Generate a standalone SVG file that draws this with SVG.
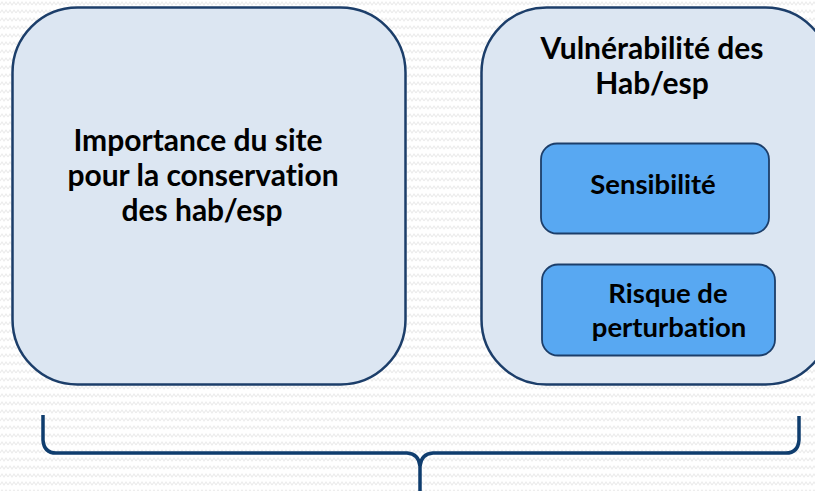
<svg xmlns="http://www.w3.org/2000/svg" width="815" height="491" viewBox="0 0 815 491">
  <defs>
    <pattern id="bg" width="8" height="8" patternUnits="userSpaceOnUse">
      <path d="M0,5 L2,2 L4,5 L6,2 L8,5" fill="none" stroke="#ececec" stroke-width="1.2"/>
    </pattern>
  </defs>
  <style>
    .big { fill: #dce6f2; stroke: #1c3e6a; stroke-width: 2.5; }
    .small { fill: #58a8f2; stroke: #1c3e6a; stroke-width: 1.8; }
    .t { font-family: Lato, "Liberation Sans", sans-serif; font-weight: bold; font-size: 30px; fill: #000; text-anchor: middle; font-variant-ligatures: none; }
    .s { font-size: 27.5px; }
    .brace { fill: none; stroke: #0f3d6e; stroke-width: 3.5; stroke-linejoin: round; }
  </style>
  <rect x="0" y="0" width="815" height="491" fill="#ffffff"/>
  <rect x="0" y="0" width="815" height="491" fill="url(#bg)"/>

  <g id="importance">
    <rect class="big" x="12.5" y="7.5" width="393" height="377" rx="65" ry="65"/>
    <text class="t" x="198" y="151">Importance du site</text>
    <text class="t" x="203" y="186">pour la conservation</text>
    <text class="t" x="202" y="221">des hab/esp</text>
  </g>

  <g id="vulnerabilite">
    <rect class="big" x="481.5" y="7.5" width="349" height="377" rx="65" ry="65"/>
    <text class="t" x="652" y="59">Vulnérabilité des</text>
    <text class="t" x="652" y="94">Hab/esp</text>
  </g>

  <g id="sensibilite">
    <rect class="small" x="541" y="143.5" width="228" height="90" rx="16" ry="16"/>
    <text class="t s" x="653" y="194">Sensibilité</text>
  </g>

  <g id="risque">
    <rect class="small" x="542" y="264.5" width="233" height="91" rx="16" ry="16"/>
    <text class="t s" x="668" y="303">Risque de</text>
    <text class="t s" x="669" y="337">perturbation</text>
  </g>

  <g id="connectors">
    <path class="brace" d="M43,415 L43,440 Q44,453 56,453 L407,453 Q419,454 420,466 L420,491"/>
    <path class="brace" d="M420,466 Q421,454 433,453 L786,453 Q798,453 799,440 L799,416"/>
  </g>
</svg>
